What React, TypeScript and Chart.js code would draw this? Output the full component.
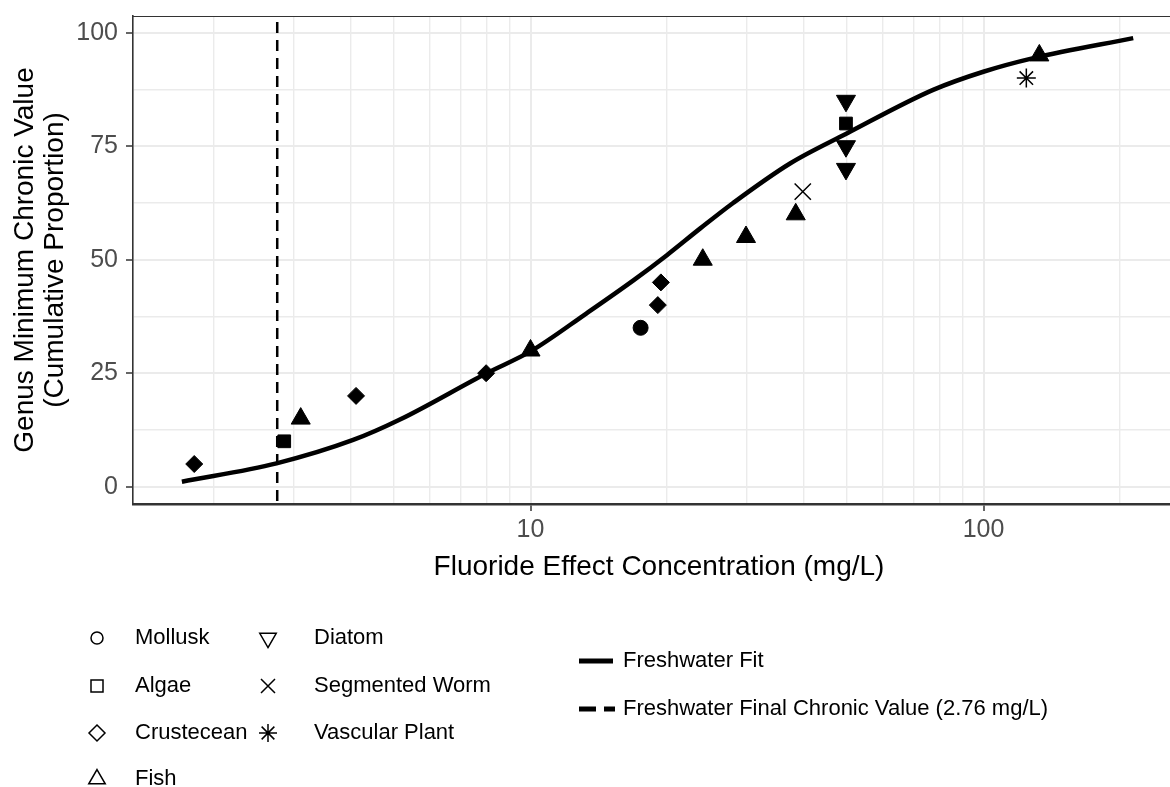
import React, { useEffect, useRef } from 'react';
import { Chart, registerables } from 'chart.js';

Chart.register(...registerables);

const FONT = '"Liberation Sans", Arial, Helvetica, sans-serif';
const W = 1170;
const H = 787;

// Genus minimum chronic values (mg/L) and their cumulative proportion (%)
const molluskX = [17.5];
const molluskY = [35];
const algaeX = [2.86, 49.7];
const algaeY = [10, 80];
const crustaceanX = [1.81, 4.12, 7.98, 19.1, 19.4];
const crustaceanY = [5, 20, 25, 40, 45];
const fishX = [3.11, 10.0, 24.0, 29.9, 38.5, 132.8];
const fishY = [15, 30, 50, 55, 60, 95];
const diatomX = [49.7, 49.7, 49.7];
const diatomY = [70, 75, 85];
const wormX = [39.9];
const wormY = [65];
const plantX = [124.3];
const plantY = [90];

// Fitted species sensitivity curve
const fitX = [1.70, 2.75, 4.06, 5.15, 8.0, 10.0, 13.3, 16.9, 20.0, 23.7, 28.0, 37.4, 49.9, 77.4, 99.9, 128.8, 214];
const fitY = [1.1, 5.15, 10.3, 14.8, 25.0, 29.8, 38.2, 45.5, 51.0, 56.9, 62.5, 71.2, 77.8, 87.4, 91.4, 94.4, 98.8];

// Freshwater final chronic value (mg/L)
const finalChronicValue = 2.76;

// Axis extents and tick values
const xMin = 1.326;
const xMax = 258;
const yMin = -3.81;
const yMax = 103.68;
const xGridValues = [2, 3, 4, 5, 6, 7, 8, 9, 10, 20, 30, 40, 50, 60, 70, 80, 90, 100, 200];
const xTickLabels = [10, 100];
const yGridValues = [0, 12.5, 25, 37.5, 50, 62.5, 75, 87.5, 100];
const yTickLabels = [0, 25, 50, 75, 100];

const groupNames = ['Mollusk', 'Algae', 'Crustecean', 'Fish', 'Diatom', 'Segmented Worm', 'Vascular Plant'];
const fitLabel = 'Freshwater Fit';
const fcvLabel = 'Freshwater Final Chronic Value (2.76 mg/L)';
const xTitle = 'Fluoride Effect Concentration (mg/L)';
const yTitleLines = ['Genus Minimum Chronic Value', '(Cumulative Proportion)'];

const pts = (xs: number[], ys: number[]) => xs.map((x, i) => ({ x, y: ys[i] }));

type Shape = 'circle' | 'square' | 'diamond' | 'triUp' | 'triDown' | 'cross' | 'star';
const groupShapes: Shape[] = ['circle', 'square', 'diamond', 'triUp', 'triDown', 'cross', 'star'];

function drawHollow(ctx: CanvasRenderingContext2D, shape: Shape, x: number, y: number) {
  ctx.save();
  ctx.strokeStyle = '#000';
  ctx.lineWidth = 1.5;
  ctx.beginPath();
  if (shape === 'circle') {
    ctx.arc(x, y, 6, 0, Math.PI * 2);
  } else if (shape === 'square') {
    ctx.rect(x - 6, y - 6, 12, 12);
  } else if (shape === 'diamond') {
    ctx.moveTo(x, y - 8);
    ctx.lineTo(x + 8, y);
    ctx.lineTo(x, y + 8);
    ctx.lineTo(x - 8, y);
    ctx.closePath();
  } else if (shape === 'triUp' || shape === 'triDown') {
    const s = shape === 'triUp' ? 1 : -1;
    const r = 9.5;
    ctx.moveTo(x, y - s * r);
    ctx.lineTo(x + r * 0.866, y + s * r * 0.5);
    ctx.lineTo(x - r * 0.866, y + s * r * 0.5);
    ctx.closePath();
  } else if (shape === 'cross') {
    const r = 7;
    ctx.moveTo(x - r, y - r);
    ctx.lineTo(x + r, y + r);
    ctx.moveTo(x + r, y - r);
    ctx.lineTo(x - r, y + r);
  } else if (shape === 'star') {
    const r = 9;
    for (let k = 0; k < 4; k++) {
      const a = (k * Math.PI) / 4;
      ctx.moveTo(x - Math.cos(a) * r, y - Math.sin(a) * r);
      ctx.lineTo(x + Math.cos(a) * r, y + Math.sin(a) * r);
    }
  }
  ctx.stroke();
  ctx.restore();
}

const zeroPadding = (scale: any) => {
  scale.paddingTop = 0;
  scale.paddingBottom = 0;
  scale.paddingLeft = 0;
  scale.paddingRight = 0;
};

const decorPlugin = {
  id: 'decor',
  beforeDatasetsDraw(chart: any) {
    const { ctx, chartArea } = chart;
    ctx.save();
    ctx.strokeStyle = '#333';
    ctx.lineWidth = 1.2;
    ctx.beginPath();
    ctx.moveTo(chartArea.left, chartArea.top + 0.5);
    ctx.lineTo(chartArea.right, chartArea.top + 0.5);
    ctx.stroke();
    ctx.restore();
  },
  afterDraw(chart: any) {
    const { ctx } = chart;
    ctx.save();
    ctx.fillStyle = '#000';
    // axis titles
    ctx.font = `28px ${FONT}`;
    ctx.textAlign = 'center';
    ctx.textBaseline = 'alphabetic';
    ctx.fillText(xTitle, 659, 575);
    ctx.save();
    ctx.translate(33, 260);
    ctx.rotate(-Math.PI / 2);
    ctx.fillText(yTitleLines[0], 0, 0);
    ctx.restore();
    ctx.save();
    ctx.translate(63, 260);
    ctx.rotate(-Math.PI / 2);
    ctx.fillText(yTitleLines[1], 0, 0);
    ctx.restore();

    // shape legend
    ctx.font = `22px ${FONT}`;
    ctx.textAlign = 'left';
    ctx.textBaseline = 'middle';
    const rows = [638, 686, 733, 779];
    groupNames.forEach((name, i) => {
      const col = i < 4 ? 0 : 1;
      const row = i < 4 ? i : i - 4;
      const sx = col === 0 ? 97 : 268;
      const tx = col === 0 ? 135 : 314;
      drawHollow(ctx, groupShapes[i], sx, rows[row]);
      ctx.fillText(name, tx, rows[row]);
    });

    // line legend
    ctx.strokeStyle = '#000';
    ctx.lineWidth = 5;
    ctx.lineCap = 'butt';
    ctx.beginPath();
    ctx.moveTo(579, 661);
    ctx.lineTo(613, 661);
    ctx.stroke();
    ctx.setLineDash([17, 8]);
    ctx.beginPath();
    ctx.moveTo(579, 709);
    ctx.lineTo(615, 709);
    ctx.stroke();
    ctx.setLineDash([]);
    ctx.fillText(fitLabel, 623, 661);
    ctx.fillText(fcvLabel, 623, 709);
    ctx.restore();
  },
};

const App: React.FC = () => {
  const canvasRef = useRef<HTMLCanvasElement | null>(null);

  useEffect(() => {
    if (!canvasRef.current) return;
    const markBase = { backgroundColor: '#000', borderColor: '#000', showLine: false };
    const chart = new Chart(canvasRef.current, {
      type: 'scatter',
      data: {
        datasets: [
          { ...markBase, label: groupNames[0], data: pts(molluskX, molluskY), pointStyle: 'circle', pointRadius: 7.5, borderWidth: 1 },
          { ...markBase, label: groupNames[1], data: pts(algaeX, algaeY), pointStyle: 'rect', pointRadius: 9, borderWidth: 1 },
          { ...markBase, label: groupNames[2], data: pts(crustaceanX, crustaceanY), pointStyle: 'rectRot', pointRadius: 8.5, borderWidth: 1 },
          { ...markBase, label: groupNames[3], data: pts(fishX, fishY), pointStyle: 'triangle', pointRadius: 11, borderWidth: 1 },
          { ...markBase, label: groupNames[4], data: pts(diatomX, diatomY), pointStyle: 'triangle', pointRadius: 11, rotation: 180, borderWidth: 1 },
          { ...markBase, label: groupNames[5], data: pts(wormX, wormY), pointStyle: 'crossRot', pointRadius: 11.5, borderWidth: 1.5 },
          { ...markBase, label: groupNames[6], data: pts(plantX, plantY), pointStyle: 'star', pointRadius: 9.5, borderWidth: 1.5 },
          {
            label: fitLabel,
            data: pts(fitX, fitY),
            showLine: true,
            borderColor: '#000',
            borderWidth: 4.5,
            borderCapStyle: 'butt',
            pointRadius: 0,
            cubicInterpolationMode: 'monotone',
            fill: false,
          },
          {
            label: fcvLabel,
            data: [
              { x: finalChronicValue, y: yMax },
              { x: finalChronicValue, y: yMin },
            ],
            showLine: true,
            borderColor: '#000',
            borderWidth: 2.5,
            borderDash: [11, 7],
            borderDashOffset: 12,
            pointRadius: 0,
            fill: false,
          },
        ] as any,
      },
      options: {
        responsive: false,
        maintainAspectRatio: false,
        animation: false,
        devicePixelRatio: 1,
        layout: { autoPadding: false, padding: { top: 16, left: 0, right: 0, bottom: 0 } },
        plugins: { legend: { display: false }, tooltip: { enabled: false } },
        events: [],
        scales: {
          x: {
            type: 'logarithmic',
            min: xMin,
            max: xMax,
            afterBuildTicks: (scale: any) => {
              scale.ticks = xGridValues.map((v) => ({ value: v }));
            },
            afterFit: (scale: any) => {
              scale.height = H - 504;
              zeroPadding(scale);
            },
            ticks: {
              autoSkip: false,
              maxRotation: 0,
              minRotation: 0,
              padding: 4,
              color: '#4d4d4d',
              font: { family: FONT, size: 25 },
              callback: (v: any) => (xTickLabels.includes(Number(v)) ? String(v) : ''),
            },
            grid: {
              color: '#ebebeb',
              lineWidth: (c: any) => (c.tick && xTickLabels.includes(c.tick.value) ? 2 : 1.4),
              tickLength: 7,
              tickWidth: 1.5,
              tickColor: (c: any) => (c.tick && xTickLabels.includes(c.tick.value) ? '#333' : 'rgba(0,0,0,0)'),
            },
            border: { display: true, color: '#333', width: 2.5 },
          },
          y: {
            type: 'linear',
            min: yMin,
            max: yMax,
            afterBuildTicks: (scale: any) => {
              scale.ticks = yGridValues.map((v) => ({ value: v }));
            },
            afterFit: (scale: any) => {
              scale.width = 133;
              zeroPadding(scale);
            },
            ticks: {
              autoSkip: false,
              padding: 8,
              color: '#4d4d4d',
              font: { family: FONT, size: 25 },
              callback: (v: any) => (yTickLabels.includes(Number(v)) ? String(v) : ''),
            },
            grid: {
              color: '#ebebeb',
              lineWidth: (c: any) => (c.tick && yTickLabels.includes(c.tick.value) ? 2 : 1.4),
              tickLength: 7,
              tickWidth: 1.5,
              tickColor: (c: any) => (c.tick && yTickLabels.includes(c.tick.value) ? '#333' : 'rgba(0,0,0,0)'),
            },
            border: { display: true, color: '#333', width: 1.6 },
          },
        },
      } as any,
      plugins: [decorPlugin],
    });
    return () => chart.destroy();
  }, []);

  return (
    <div style={{ position: 'fixed', left: 0, top: 0, width: W, height: H, background: '#fff' }}>
      <canvas ref={canvasRef} width={W} height={H} style={{ width: W, height: H, display: 'block' }} />
    </div>
  );
};

export default App;
